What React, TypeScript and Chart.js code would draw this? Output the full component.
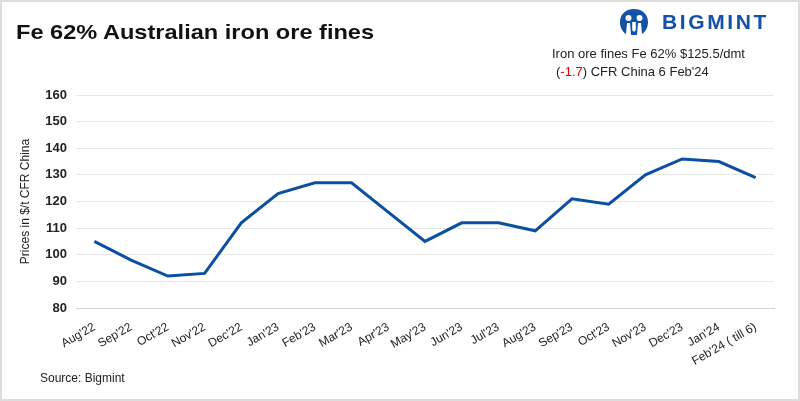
import React, { useEffect, useRef } from "react";
import { Chart, registerables } from "chart.js";

Chart.register(...registerables);

const categories = [
  "Aug'22", "Sep'22", "Oct'22", "Nov'22", "Dec'22", "Jan'23", "Feb'23", "Mar'23",
  "Apr'23", "May'23", "Jun'23", "Jul'23", "Aug'23", "Sep'23", "Oct'23", "Nov'23",
  "Dec'23", "Jan'24", "Feb'24 ( till 6)",
];
const prices = [105, 98, 92, 93, 112, 123, 127, 127, 116, 105, 112, 112, 109, 121, 119, 130, 136, 135, 129];
const yMin = 80;
const yMax = 160;
const yStep = 10;

const FONT = "'Liberation Sans', Arial, sans-serif";

function Logo() {
  return (
    <div style={{ position: "absolute", left: 619, top: 8, display: "flex", alignItems: "center" }}>
      <svg width="30" height="28" viewBox="0 0 30 28">
        <path d="M15 1 C6 1 1 7 1 14 C1 20 4 24 7 26 L8 15 L11 15 L12 27 L18 27 L19 15 L22 15 L23 26 C26 24 29 20 29 14 C29 7 24 1 15 1 Z" fill="#1452a8" />
        <circle cx="9.5" cy="10" r="3" fill="#fff" />
        <circle cx="20.5" cy="10" r="3" fill="#fff" />
        <path d="M13.2 14 L16.8 14 L16.8 22 L15 24 L13.2 22 Z" fill="#fff" />
      </svg>
      <span style={{ marginLeft: 13, fontFamily: FONT, fontWeight: 700, fontSize: 21, letterSpacing: 2.6, color: "#1452a8" }}>BIGMINT</span>
    </div>
  );
}

export default function App() {
  const ref = useRef<HTMLCanvasElement | null>(null);

  useEffect(() => {
    document.body.style.margin = "0";
    const ctx = ref.current!.getContext("2d")!;
    const chart = new Chart(ctx, {
      type: "line",
      data: {
        labels: categories,
        datasets: [
          {
            data: prices,
            borderColor: "#0b4fa4",
            backgroundColor: "#0b4fa4",
            borderWidth: 3,
            pointRadius: 0,
            tension: 0,
            fill: false,
          },
        ],
      },
      options: {
        animation: false,
        responsive: false,
        devicePixelRatio: 1,
        layout: { padding: { left: 14, right: 26, top: 95, bottom: 8 } },
        plugins: { legend: { display: false }, tooltip: { enabled: false } },
        scales: {
          x: {
            offset: true,
            grid: { display: false },
            border: { display: true, color: "#d4d4d4", width: 1 },
            ticks: {
              autoSkip: false,
              minRotation: 30,
              maxRotation: 30,
              color: "#222",
              padding: 4,
              font: { family: FONT, size: 12 },
            },
            afterFit: (s: any) => {
              s.height = 85;
            },
          },
          y: {
            min: yMin,
            max: yMax,
            ticks: {
              stepSize: yStep,
              color: "#222",
              padding: 9,
              font: { family: FONT, size: 13, weight: "bold" },
            },
            grid: { color: "#e6e6e6", drawTicks: false },
            border: { display: false },
            title: {
              display: true,
              text: "Prices in $/t CFR China",
              color: "#222",
              font: { family: FONT, size: 12 },
              padding: { top: 4, bottom: 4 },
            },
            afterFit: (s: any) => {
              s.width = 62;
            },
          },
        },
      },
    });
    return () => chart.destroy();
  }, []);

  return (
    <div style={{ position: "absolute", left: 0, top: 0, width: 800, height: 401, background: "#fff", overflow: "hidden" }}>
      <canvas ref={ref} width={800} height={401} style={{ position: "absolute", left: 0, top: 0, width: 800, height: 401 }} />
      <div style={{ position: "absolute", left: 16, top: 20, fontFamily: FONT, fontWeight: 700, fontSize: 20.5, color: "#111", whiteSpace: "nowrap", transform: "scaleX(1.15)", transformOrigin: "0 0" }}>
        Fe 62% Australian iron ore fines
      </div>
      <Logo />
      <div style={{ position: "absolute", left: 552, top: 46, fontFamily: FONT, fontSize: 13, color: "#222", whiteSpace: "nowrap" }}>
        Iron ore fines Fe 62% $125.5/dmt
      </div>
      <div style={{ position: "absolute", left: 556, top: 64, fontFamily: FONT, fontSize: 13, color: "#222", whiteSpace: "nowrap" }}>
        (<span style={{ color: "#e00" }}>-1.7</span>) CFR China 6 Feb'24
      </div>
      <div style={{ position: "absolute", left: 40, top: 371, fontFamily: FONT, fontSize: 12, color: "#222", whiteSpace: "nowrap" }}>
        Source: Bigmint
      </div>
      <div style={{ position: "absolute", inset: 0, border: "2px solid #dcdcdc", boxSizing: "border-box", pointerEvents: "none" }} />
    </div>
  );
}
